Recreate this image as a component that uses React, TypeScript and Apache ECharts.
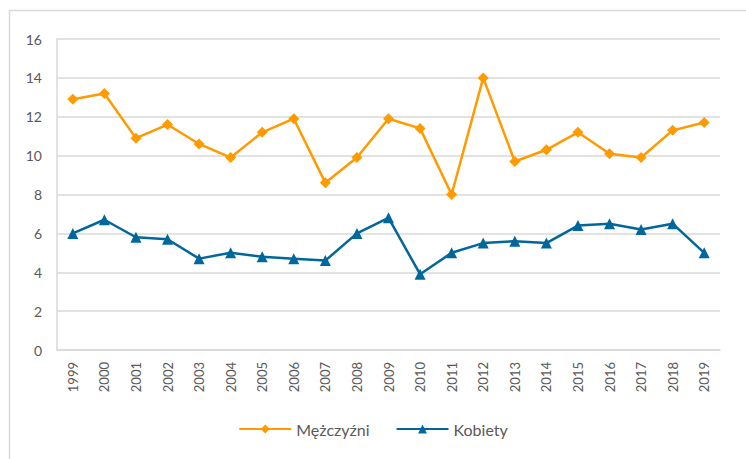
import React, { useEffect, useRef } from "react";
import * as echarts from "echarts";

const years = ["1999","2000","2001","2002","2003","2004","2005","2006","2007","2008","2009","2010","2011","2012","2013","2014","2015","2016","2017","2018","2019"];
const men = [12.9, 13.2, 10.9, 11.6, 10.6, 9.9, 11.2, 11.9, 8.6, 9.9, 11.9, 11.4, 8.0, 14.0, 9.7, 10.3, 11.2, 10.1, 9.9, 11.3, 11.7];
const women = [6.0, 6.7, 5.8, 5.7, 4.7, 5.0, 4.8, 4.7, 4.6, 6.0, 6.8, 3.9, 5.0, 5.5, 5.6, 5.5, 6.4, 6.5, 6.2, 6.5, 5.0];
const seriesNames = ["Mężczyźni", "Kobiety"];
const yTicks = [0, 2, 4, 6, 8, 10, 12, 14, 16];

const FONT = "Lato, 'Liberation Sans', sans-serif";
const ORANGE = "#FF9A00";
const BLUE = "#00679C";

export default function App() {
  const ref = useRef<HTMLDivElement>(null);
  useEffect(() => {
    const chart = echarts.init(ref.current!, null, { renderer: "svg" });
    chart.setOption({
      animation: false,
      textStyle: { fontFamily: FONT },
      graphic: [
        {
          type: "rect",
          shape: { x: 9.5, y: 10.5, width: 800, height: 500 },
          style: { fill: "none", stroke: "#D9D9D9", lineWidth: 1.5 },
          silent: true,
        },
      ],
      grid: { left: 57, right: 26, top: 39, bottom: 109, containLabel: false },
      legend: {
        bottom: 17,
        left: "center",
        itemWidth: 52,
        itemHeight: 11,
        itemGap: 26,
        textStyle: { fontFamily: FONT, fontSize: 16, color: "#595959" },
        data: seriesNames,
      },
      xAxis: {
        type: "category",
        data: years,
        boundaryGap: true,
        axisLine: { lineStyle: { color: "#D9D9D9", width: 1.5 } },
        axisTick: { show: false },
        axisLabel: { rotate: 90, fontSize: 13, color: "#595959", margin: 12, fontFamily: FONT },
      },
      yAxis: {
        type: "value",
        min: yTicks[0],
        max: yTicks[yTicks.length - 1],
        interval: 2,
        axisLine: { show: true, lineStyle: { color: "#D9D9D9", width: 1.5 } },
        axisTick: { show: false },
        splitLine: { lineStyle: { color: "#D9D9D9", width: 1.5 } },
        axisLabel: { fontSize: 14, color: "#595959", margin: 15, fontFamily: FONT },
      },
      series: [
        {
          name: seriesNames[0],
          type: "line",
          data: men,
          symbol: "diamond",
          symbolSize: 11,
          itemStyle: { color: ORANGE },
          lineStyle: { color: ORANGE, width: 2.5 },
        },
        {
          name: seriesNames[1],
          type: "line",
          data: women,
          symbol: "triangle",
          symbolSize: 11,
          itemStyle: { color: BLUE },
          lineStyle: { color: BLUE, width: 2.5 },
        },
      ],
    });
    return () => chart.dispose();
  }, []);
  return <div ref={ref} style={{ width: 746, height: 459, position: "absolute", left: 0, top: 0 }} />;
}
